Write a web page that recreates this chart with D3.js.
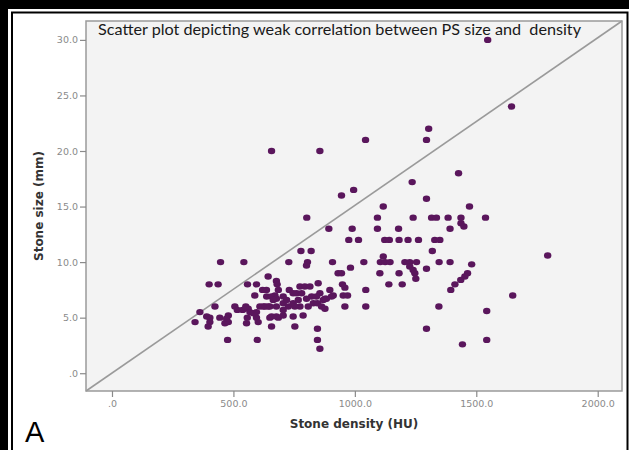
<!DOCTYPE html>
<html>
<head>
<meta charset="UTF-8">
<title>Chart</title>
<script src="https://cdn.jsdelivr.net/npm/d3@7"></script>
<style>
    body {
        margin: 0;
        background-color: #fff;
    }
    svg {
        display: block;
    }
</style>
</head>
<body>
<div id="graph-container"></div>
<script>
    // stone density (HU) and stone size (mm)
    let density = [
        1547, 1645, 1794, 1650, 657, 856, 1044, 1304, 1295,
        945, 995, 1427, 1236, 1295, 1472, 1117,
        802, 1093, 1240, 1316, 1336, 1384, 1437, 1437, 1449, 1538,
        893, 989, 1093, 1180, 1392,
        975, 1015, 1123, 1142, 1182, 1219, 1262, 1329, 1350,
        778, 820, 1319,
        447, 543, 728, 805, 908, 1037, 1105, 1125, 1145, 1206, 1226, 1254, 1347, 1392, 1117, 1481,
        801, 982, 931, 945, 1103, 1182, 1464,
        1226, 1240, 1247, 1251, 1295, 1453, 1436, 1412, 1395,
        1140, 1195, 949, 400, 437, 558, 595,
        959, 952, 970, 1045, 1045, 959, 1346, 1543, 1295, 1443, 1543,
        846, 846, 856, 753, 657,
        643, 677, 588, 636, 671, 424, 362, 342, 403, 403, 444, 479, 506, 516, 479,
        538, 561, 568, 557, 595, 595, 602, 623, 643, 650, 685, 476, 598, 554,
        680, 774, 794, 815, 849, 730, 746, 760, 856, 877, 897, 911, 620, 637, 657, 677,
        551, 582, 609, 630, 650, 677, 705, 726, 746, 774, 808, 829, 846, 863, 877,
        390, 396, 465, 472,
        685, 781, 705, 822, 842, 904, 664, 719, 767, 801, 870, 883, 705, 753,
        657, 677, 705, 746, 787
    ];
    let size = [
        30, 24, 10.6, 7, 20, 20, 21, 22, 21,
        16, 16.5, 18, 17.2, 15.7, 15, 15,
        14, 14, 14, 14, 14, 14, 14, 13.5, 13.2, 14,
        13, 13, 13, 13, 13,
        12, 12, 12, 12, 12, 12, 12, 12, 12,
        11, 11, 11,
        10, 10, 10, 10, 10, 10, 10, 10, 10, 10, 10, 10, 10, 10, 10.5, 9.8,
        9.7, 9.5, 9, 9, 9, 9, 9,
        9.6, 9.3, 9, 8.5, 9.4, 8.7, 8.4, 8, 7.5,
        8, 8, 8, 8, 8, 8, 8,
        7.7, 7, 7, 7.5, 6, 6, 6, 5.6, 4, 2.6, 3,
        4, 3, 2.2, 4.2, 4.2,
        8.7, 8.3, 7, 7.5, 7, 6, 5.5, 4.6, 5, 4.6, 5, 4.6, 6, 5.7, 5.2,
        5.7, 5.8, 5.5, 5, 5.5, 5, 4.6, 6, 6, 5, 5, 3, 3, 4.5,
        8, 7.8, 7.8, 7.8, 8.1, 7.5, 7.2, 7.2, 7.2, 6.7, 7.5, 7, 7.5, 6.9, 6.9, 6.7,
        6, 5.4, 6, 6, 6, 6, 6.3, 6, 6.3, 6, 6, 6.3, 6.3, 6, 5.8,
        5.1, 4.2, 4.5, 4.9,
        7.5, 7.2, 6.9, 6.9, 6.9, 6.9, 6.6, 6.6, 6.6, 6.7, 6.6, 6.7, 5.7, 6,
        5.1, 5.1, 5.2, 5.1, 5.2
    ];
    let xTicks = [0, 500, 1000, 1500, 2000];
    let yTicks = [0, 5, 10, 15, 20, 25, 30];
    let xDomain = [-107, 2100];
    let yDomain = [-1.6, 31.7];

    let data = density.map((d, i) => ({ x: d, y: size[i] }));

    let W = 629, H = 450;
    let margin = { top: 21, right: 7, bottom: 59, left: 86 },
        width = W - margin.left - margin.right,
        height = H - margin.top - margin.bottom;

    let x = d3.scaleLinear().domain(xDomain).range([0, width]);
    let y = d3.scaleLinear().domain(yDomain).range([height, 0]);

    let root = d3.select("#graph-container").append("svg")
        .attr("width", W)
        .attr("height", H);

    // picture border
    root.append("rect").attr("x", 0).attr("y", 0).attr("width", W).attr("height", 9).attr("fill", "#000");
    root.append("rect").attr("x", 0).attr("y", 0).attr("width", 8).attr("height", H).attr("fill", "#000");
    root.append("path")
        .attr("d", "M12," + H + "V12.5H627.5V" + H)
        .attr("fill", "none")
        .attr("stroke", "#000")
        .attr("stroke-width", 2);

    let svg = root.append("g")
        .attr("transform", "translate(" + margin.left + "," + margin.top + ")");

    svg.append("rect")
        .attr("width", width)
        .attr("height", height)
        .attr("fill", "#f3f3f3");

    // reference line, corner to corner
    svg.append("line")
        .attr("x1", x(xDomain[0])).attr("y1", y(yDomain[0]))
        .attr("x2", x(xDomain[1])).attr("y2", y(yDomain[1]))
        .attr("stroke", "#9a9a9a")
        .attr("stroke-width", 1.6);

    svg.append("rect")
        .attr("width", width)
        .attr("height", height)
        .attr("fill", "none")
        .attr("stroke", "#9a9a9a")
        .attr("stroke-width", 1.5);

    let fmt = d => d === 0 ? ".0" : d3.format(".1f")(d);

    let xAxis = svg.append("g")
        .attr("transform", "translate(0," + height + ")")
        .call(d3.axisBottom(x).tickValues(xTicks).tickFormat(fmt).tickSize(6).tickPadding(3));
    let yAxis = svg.append("g")
        .call(d3.axisLeft(y).tickValues(yTicks).tickFormat(fmt).tickSize(6).tickPadding(2));

    [xAxis, yAxis].forEach(a => {
        a.select(".domain").remove();
        a.selectAll(".tick line").attr("stroke", "#8a8a8a").attr("stroke-width", 1.2);
        a.selectAll(".tick text")
            .attr("fill", "#8a8a8a")
            .style("font-family", "DejaVu Sans, sans-serif")
            .style("font-size", "9.5px");
    });

    // the points
    svg.selectAll(".point")
        .data(data)
        .enter()
        .append("ellipse")
        .attr("class", "point")
        .attr("cx", d => x(d.x))
        .attr("cy", d => y(d.y))
        .attr("rx", 3.7)
        .attr("ry", 3.2)
        .attr("fill", "#5a165c");

    // title inside the plot
    root.append("text")
        .attr("x", 98)
        .attr("y", 35)
        .attr("textLength", 483)
        .attr("lengthAdjust", "spacingAndGlyphs")
        .style("white-space", "pre")
        .style("font-family", "Lato, Open Sans, sans-serif")
        .style("font-size", "16px")
        .attr("fill", "#1a1a1a")
        .text("Scatter plot depicting weak correlation between PS size and  density");

    root.append("text")
        .attr("x", margin.left + width / 2)
        .attr("y", 428)
        .attr("text-anchor", "middle")
        .style("font-family", "DejaVu Sans, sans-serif")
        .style("font-size", "12px")
        .style("font-weight", "bold")
        .attr("fill", "#333")
        .text("Stone density (HU)");

    root.append("text")
        .attr("transform", "translate(43," + (margin.top + height / 2) + ") rotate(-90)")
        .attr("text-anchor", "middle")
        .style("font-family", "DejaVu Sans, sans-serif")
        .style("font-size", "12px")
        .style("font-weight", "bold")
        .attr("fill", "#333")
        .text("Stone size (mm)");

    root.append("text")
        .attr("x", 25)
        .attr("y", 442)
        .style("font-family", "Liberation Sans, Arial, sans-serif")
        .style("font-size", "29px")
        .attr("fill", "#000")
        .text("A");
</script>
</body>
</html>
